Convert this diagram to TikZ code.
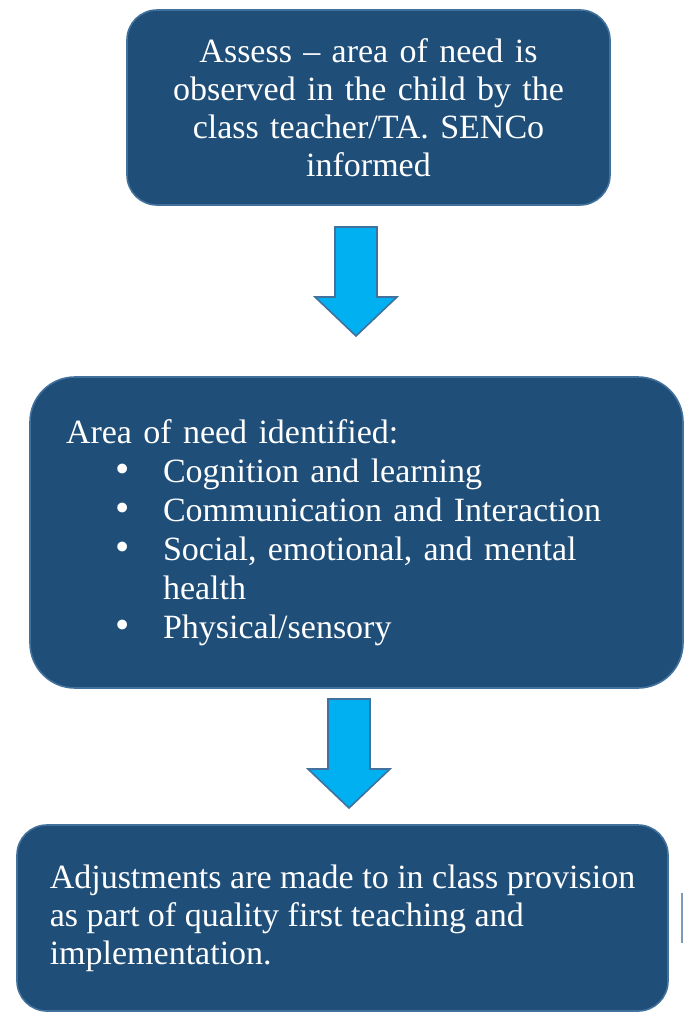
\documentclass[tikz,border=0pt]{standalone}
\usepackage{fontspec}
\setmainfont{Liberation Serif}
\usepackage{tikz}
\usetikzlibrary{positioning,calc}

\definecolor{boxfill}{HTML}{1F4E79}
\definecolor{boxedge}{HTML}{41719C}
\definecolor{arrowfill}{HTML}{00B0F0}

\tikzset{
    stagebox/.style={draw=boxedge, line width=1.6pt, fill=boxfill, text=white, rounded corners=30pt,
        font=\fontsize{34}{38}\selectfont, inner sep=0pt},
    blockarrow/.style={draw=boxedge, line width=1.6pt, fill=arrowfill, line join=miter},
}

% block arrow pointing down: #1 centre x, #2 top y
\newcommand{\downblock}[2]{%
    \draw[blockarrow] (#1-21,#2) -- (#1+21,#2) -- (#1+21,#2+70) -- (#1+41,#2+70)
        -- (#1,#2+109) -- (#1-41,#2+70) -- (#1-21,#2+70) -- cycle;
}
\newcommand{\needitem}{\hspace*{49pt}\makebox[48pt][l]{\scalebox{1.2}{\textbullet}}}

\begin{document}
\begin{tikzpicture}[x=1pt, y=-1pt]
    \useasboundingbox (0,0) rectangle (683,1012);

    \node[stagebox, minimum width=483pt, minimum height=195pt, text width=440pt, align=center]
        (assess) at (368.5,107.5) {Assess -- area of need is\\ observed in the child by the\\ class teacher/TA. SENCo\\ informed};

    \node[stagebox, rounded corners=45pt, minimum width=653pt, minimum height=311pt, text width=581pt, align=left,
        font=\fontsize{34}{39}\selectfont]
        (identify) at (356.5,532.5) {Area of need identified:\\
        \needitem Cognition and learning\\
        \needitem Communication and Interaction\\
        \needitem Social, emotional, and mental\\
        \hspace*{97pt}health\\
        \needitem Physical/sensory};

    \node[stagebox, minimum width=651pt, minimum height=186pt, align=left]
        (adjust) at (342.5,918) {Adjustments are made to in class provision\\ as part of quality first teaching and\\ implementation.};

    \downblock{356}{227}
    \downblock{349}{699}

    \draw[boxedge!70, line width=1.4pt] (682,893) -- (682,943);
\end{tikzpicture}
\end{document}
